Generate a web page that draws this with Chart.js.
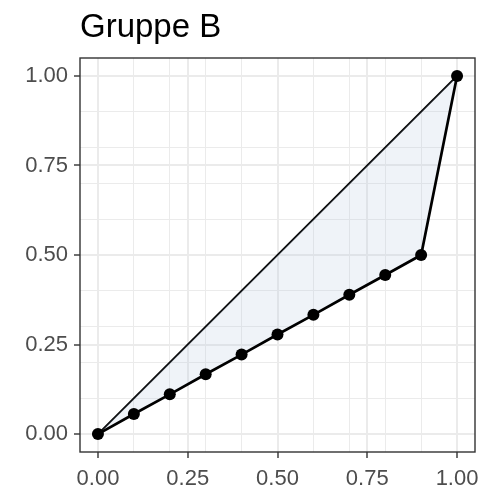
<!DOCTYPE html>
<html>
<head>
<meta charset="utf-8">
<script src="https://cdn.jsdelivr.net/npm/chart.js@4.4.0/dist/chart.umd.min.js"></script>
<style>
  html, body { margin: 0; padding: 0; background: #fff; }
  #wrap { width: 500px; height: 500px; }
</style>
</head>
<body>
<div id="wrap"><canvas id="lorenz"></canvas></div>
<script>
const titleText = "Gruppe B";
const xValues = [0, 0.1, 0.2, 0.3, 0.4, 0.5, 0.6, 0.7, 0.8, 0.9, 1];
const yValues = [0, 0.056, 0.111, 0.167, 0.222, 0.278, 0.333, 0.389, 0.444, 0.5, 1];
const diagX = [0, 1];
const diagY = [0, 1];
const majorTicks = [0, 0.25, 0.5, 0.75, 1];
const minorTicks = [0.1, 0.2, 0.3, 0.4, 0.6, 0.7, 0.8, 0.9];

const allTicks = majorTicks.concat(minorTicks).sort((a, b) => a - b);
const isMajor = v => majorTicks.some(m => Math.abs(m - v) < 1e-9);

const fontFamily = "'Liberation Sans', Arial, sans-serif";

// ggplot-like panel: dark frame on top, title above
const panelPlugin = {
  id: "panel",
  afterDraw(chart) {
    const { ctx, chartArea } = chart;
    ctx.save();
    ctx.strokeStyle = "#333333";
    ctx.lineWidth = 1.4;
    ctx.strokeRect(chartArea.left, chartArea.top,
      chartArea.right - chartArea.left, chartArea.bottom - chartArea.top);
    ctx.fillStyle = "#000000";
    ctx.font = "33px " + fontFamily;
    ctx.textBaseline = "alphabetic";
    ctx.textAlign = "left";
    ctx.fillText(titleText, 80, 37);
    ctx.restore();
  }
};

function axisOptions(sizeFn, pad) {
  return {
    type: "linear",
    min: -0.05,
    max: 1.05,
    afterBuildTicks: axis => { axis.ticks = allTicks.map(v => ({ value: v })); },
    afterFit: sizeFn,
    border: { display: false },
    grid: {
      color: "#EBEBEB",
      lineWidth: c => (c.tick && isMajor(c.tick.value)) ? 2 : 1,
      tickColor: c => (c.tick && isMajor(c.tick.value)) ? "#333333" : "rgba(0,0,0,0)",
      tickWidth: 1.4,
      tickLength: 6
    },
    ticks: {
      autoSkip: false,
      maxRotation: 0,
      color: "#4D4D4D",
      font: { family: fontFamily, size: 22 },
      padding: pad,
      callback: v => isMajor(v) ? v.toFixed(2) : ""
    }
  };
}

new Chart(document.getElementById("lorenz"), {
  type: "line",
  data: {
    datasets: [
      {
        label: "Lorenz",
        data: xValues.map((x, i) => ({ x: x, y: yValues[i] })),
        borderColor: "#000000",
        borderWidth: 2.7,
        pointRadius: 6,
        pointBorderWidth: 0,
        pointBackgroundColor: "#000000",
        backgroundColor: "rgba(176,196,222,0.2)",
        fill: "+1",
        tension: 0
      },
      {
        label: "Gleichverteilung",
        data: diagX.map((x, i) => ({ x: x, y: diagY[i] })),
        borderColor: "#000000",
        borderWidth: 2,
        pointRadius: 0,
        fill: false,
        tension: 0
      }
    ]
  },
  options: {
    responsive: true,
    maintainAspectRatio: false,
    animation: false,
    layout: { padding: { top: 58, right: 25, left: 0, bottom: 0 } },
    plugins: {
      legend: { display: false },
      tooltip: { enabled: false }
    },
    scales: {
      x: axisOptions(s => { s.height = 48; }, 8),
      y: axisOptions(s => { s.width = 80; }, 6)
    }
  },
  plugins: [panelPlugin]
});
</script>
</body>
</html>
